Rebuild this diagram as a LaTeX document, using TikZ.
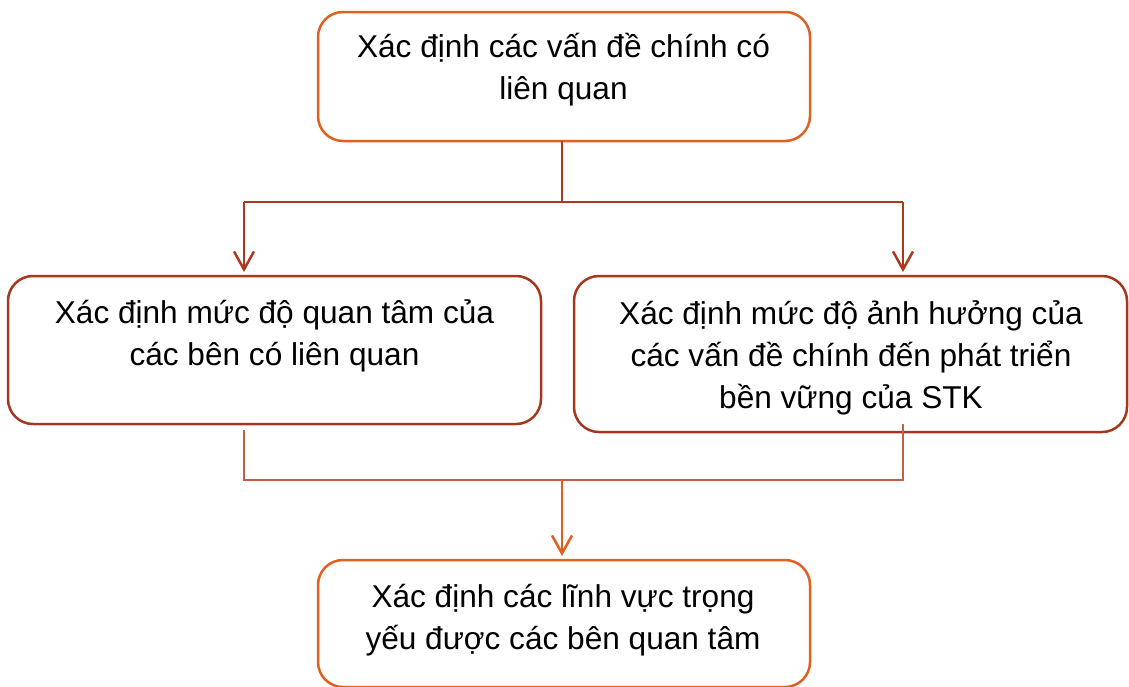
\documentclass[tikz,border=0pt]{standalone}
\usepackage{fontspec}
\setmainfont{Liberation Sans}
\usetikzlibrary{arrows.meta}
\definecolor{orangeB}{RGB}{224,96,32}
\definecolor{rustB}{RGB}{165,55,30}
\definecolor{treeA}{RGB}{170,58,30}
\definecolor{treeB}{RGB}{195,95,70}
\tikzset{
  x=1pt, y=-1pt,
  boxbase/.style={rounded corners=25pt, line width=2.5pt, inner sep=0pt, outer sep=0pt, fill=white},
  boxorange/.style={boxbase, draw=orangeB},
  boxrust/.style={boxbase, draw=rustB},
  txt/.style={anchor=north, inner sep=0pt, align=center, font=\fontsize{31.6}{42}\selectfont},
  treethin/.style={draw=treeA, line width=1.3pt},
  treelow/.style={draw=treeB, line width=1.5pt},
  arrrust/.style={draw=treeA, line width=2.5pt, -{Straight Barb[length=18pt,width=20pt,line width=2.5pt]}},
  arrorange/.style={draw=orangeB, line width=2.5pt, -{Straight Barb[length=18pt,width=20pt,line width=2.5pt]}},
}
\newcommand{\firstline}{\rule{0pt}{36pt}}
\begin{document}
\begin{tikzpicture}
\useasboundingbox (0,0) rectangle (1129,686);
% boxes
\node[boxorange, minimum width=492pt, minimum height=129pt] (top) at (564,76.5) {};
\node[boxrust, minimum width=533pt, minimum height=148pt] (left) at (274.5,350) {};
\node[boxrust, minimum width=553pt, minimum height=156pt] (right) at (850.5,354) {};
\node[boxorange, minimum width=492pt, minimum height=127pt] (bottom) at (564,623.5) {};
% texts
\node[txt] (ttop) at (563.5,21) {\firstline Xác định các vấn đề chính có\\liên quan};
\node[txt] (tleft) at (274.5,287) {\firstline Xác định mức độ quan tâm của\\các bên có liên quan};
\node[txt] (tright) at (851,288) {\firstline Xác định mức độ ảnh hưởng của\\các vấn đề chính đến phát triển\\bền vững của STK};
\node[txt] (tbottom) at (563,571) {\firstline Xác định các lĩnh vực trọng\\yếu được các bên quan tâm};
% upper connectors
\coordinate (j1) at (562,202);
\coordinate (la) at (244,202);
\coordinate (ra) at (903,202);
\draw[treethin] (top.south -| j1) -- (j1);
\draw[treethin] (la) -- (ra);
\draw[arrrust, shorten >=4pt] (la) -- (la |- left.north);
\draw[arrrust, shorten >=4pt] (ra) -- (ra |- right.north);
% lower connectors
\coordinate (lb) at (244,480);
\coordinate (rb) at (903,480);
\coordinate (j2) at (562,480);
\draw[treelow] ([yshift=-6pt]left.south -| lb) -- (lb) -- (rb) -- ([yshift=8pt]right.south -| rb);
\draw[arrorange, shorten >=4pt] (j2) -- (j2 |- bottom.north);
\end{tikzpicture}
\end{document}
